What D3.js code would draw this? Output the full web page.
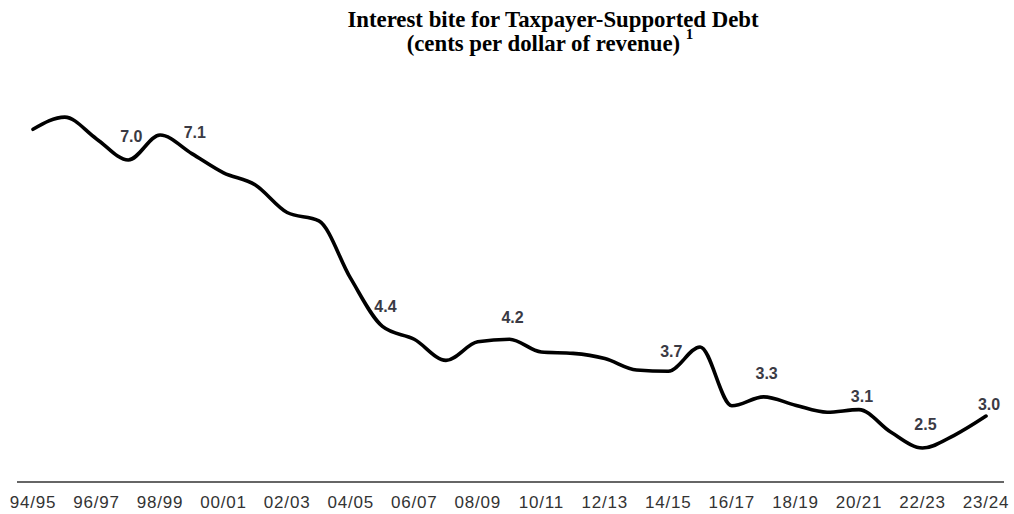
<!DOCTYPE html>
<html>
<head>
<meta charset="utf-8">
<script src="https://cdn.jsdelivr.net/npm/d3@7"></script>
<style>
  html, body { margin: 0; padding: 0; background: #fff; }
  svg { display: block; }
</style>
</head>
<body>
<svg id="chart" width="1014" height="514"></svg>
<script>
// Interest bite, cents per dollar of revenue, one value per fiscal year
const years = [
  "94/95","95/96","96/97","97/98","98/99","99/00","00/01","01/02","02/03","03/04",
  "04/05","05/06","06/07","07/08","08/09","09/10","10/11","11/12","12/13","13/14",
  "14/15","15/16","16/17","17/18","18/19","19/20","20/21","21/22","22/23","23/24","24/25"
];
const interestBite = [
  7.48, 7.67, 7.33, 7.0, 7.39, 7.1, 6.8, 6.61, 6.18, 6.05,
  5.15, 4.4, 4.2, 3.87, 4.16, 4.2, 4.0, 3.98, 3.9, 3.72,
  3.7, 4.08, 3.16, 3.3, 3.17, 3.06, 3.1, 2.75, 2.5, 2.7, 3.0
];

// Axis tick labels, evenly spread along the baseline
const tickLabels = [
  "94/95","96/97","98/99","00/01","02/03","04/05","06/07","08/09",
  "10/11","12/13","14/15","16/17","18/19","20/21","22/23","23/24"
];

// Values printed on the line, keyed by year
const labelledYears = ["97/98","99/00","05/06","09/10","14/15","17/18","20/21","22/23","24/25"];
const labelNudge = [-18, -16, -14, -16, -14, -18, -8, -18, -6];

const svg = d3.select("#chart");
const plot = { left: 33, right: 986, top: 96, bottom: 482 };

const x = d3.scaleLinear()
  .domain([0, years.length - 1])
  .range([plot.left, plot.right]);

const y = d3.scaleLinear()
  .domain([1.97, 8.0])
  .range([plot.bottom, plot.top]);

// Title
const title = svg.append("text")
  .attr("text-anchor", "middle")
  .attr("font-family", "'Liberation Serif', 'Times New Roman', serif")
  .attr("font-weight", "bold")
  .attr("font-size", 22.8)
  .attr("fill", "#000");
title.append("tspan").attr("x", 553).attr("y", 27)
  .text("Interest bite for Taxpayer-Supported Debt");
const sub = title.append("tspan").attr("x", 550).attr("y", 51);
sub.append("tspan").text("(cents per dollar of revenue) ");
sub.append("tspan").attr("dy", -12).attr("font-size", 15).text("1");

// Baseline
svg.append("line")
  .attr("x1", 17).attr("x2", 1004)
  .attr("y1", plot.bottom).attr("y2", plot.bottom)
  .attr("stroke", "#333")
  .attr("stroke-width", 1.6);

// Tick labels
const tickScale = d3.scalePoint()
  .domain(tickLabels)
  .range([plot.left, plot.right]);

svg.append("g")
  .selectAll("text")
  .data(tickLabels)
  .join("text")
  .attr("x", d => tickScale(d))
  .attr("y", 508)
  .attr("text-anchor", "middle")
  .attr("font-family", "'Liberation Sans', Arial, sans-serif")
  .attr("font-size", 17)
  .attr("letter-spacing", 0.8)
  .attr("fill", "#333")
  .text(d => d);

// The line
const line = d3.line()
  .x((d, i) => x(i))
  .y(d => y(d))
  .curve(d3.curveMonotoneX);

svg.append("path")
  .datum(interestBite)
  .attr("d", line)
  .attr("fill", "none")
  .attr("stroke", "#000")
  .attr("stroke-width", 3.6)
  .attr("stroke-linejoin", "round")
  .attr("stroke-linecap", "round");

// Value labels
svg.append("g")
  .selectAll("text")
  .data(labelledYears)
  .join("text")
  .attr("x", d => x(years.indexOf(d)) + 3)
  .attr("y", (d, k) => y(interestBite[years.indexOf(d)]) + labelNudge[k])
  .attr("text-anchor", "middle")
  .attr("font-family", "'Liberation Sans', Arial, sans-serif")
  .attr("font-weight", "bold")
  .attr("font-size", 16)
  .attr("fill", "#3a3a44")
  .text(d => interestBite[years.indexOf(d)].toFixed(1));
</script>
</body>
</html>
